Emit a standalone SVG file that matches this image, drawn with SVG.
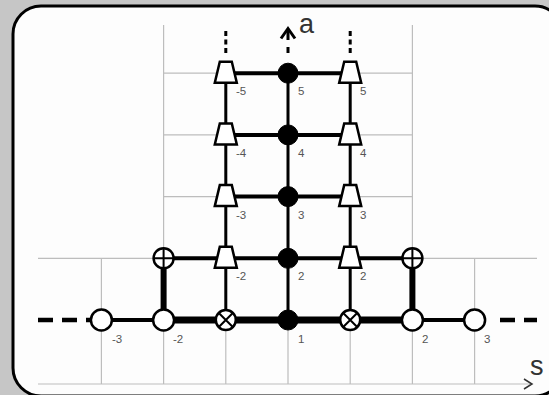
<svg xmlns="http://www.w3.org/2000/svg" width="549" height="395" viewBox="0 0 549 395">
<style>
.grid{stroke:#bdbdbd;stroke-width:1.2;fill:none}
.ln{stroke:#000;fill:none;stroke-linecap:butt}
.nd{stroke:#000;stroke-width:2.5;fill:#fff}
.fl{fill:#000;stroke:#000;stroke-width:1}
.lb{font-family:"Liberation Sans",Arial,sans-serif;font-size:11.5px;fill:#555}
.ax{font-family:"Liberation Sans",Arial,sans-serif;font-size:27px;fill:#333}
</style>
<defs>
<path id="trap" class="nd" d="M-6,-11.5 H6 L11,9.5 H-11 Z"/>
<circle id="open" class="nd" r="10.5"/>
<circle id="filled" class="fl" r="10"/>
<g id="otimes"><circle class="nd" r="10"/><path class="ln" stroke-width="2" d="M-7,-7 L7,7 M7,-7 L-7,7"/></g>
<g id="oplus"><circle class="nd" r="10"/><path class="ln" stroke-width="2" d="M-10,0 H10 M0,-10 V10"/></g>
</defs>
<rect x="0" y="0" width="549" height="395" fill="#c6c6c6"/>
<rect x="13" y="6" width="550" height="390" rx="28" ry="28" fill="#fdfdfd" stroke="#000" stroke-width="3"/>
<g id="grid">
<path class="grid" d="M38,258.3 H537 M163.6,196.6 H412.4 M163.6,134.9 H412.4 M163.6,73.2 H412.4"/>
<path class="grid" d="M163.6,25 V384 M412.4,25 V384 M101.4,258.3 V384 M474.6,258.3 V384 M225.8,320 V384 M288,320 V384 M350.2,320 V384"/>
<path class="grid" d="M38,384 H532"/>
<polyline points="524,379 532,384 524,389" fill="none" stroke="#333" stroke-width="1.5"/>
<text class="ax" x="299" y="33">a</text>
<text class="ax" x="530" y="375">s</text>
</g>
<g id="connectors">
<path class="ln" stroke-width="4" d="M101.4,320 H163.6 M412.4,320 H474.6"/>
<path class="ln" stroke-width="7" d="M163.6,320 H412.4"/>
<path class="ln" stroke-width="4.5" stroke-dasharray="15,9" d="M38,320 H91 M500,320 H537"/>
<path class="ln" stroke-width="6" d="M163.6,320 V258.3 M412.4,320 V258.3"/>
<path class="ln" stroke-width="3" d="M225.8,320 V73.2 M350.2,320 V73.2 M288,320 V73.2"/>
<path class="ln" stroke-width="4" d="M163.6,258.3 H412.4 M225.8,196.6 H350.2 M225.8,134.9 H350.2 M225.8,73.2 H350.2"/>
<path class="ln" stroke-width="3" stroke-dasharray="5,3.5" d="M225.8,31 V56 M350.2,31 V56"/>
<path class="ln" stroke-width="3" d="M288,47 V53 M288,40 V29"/>
<polyline class="ln" stroke-width="3" points="281,38.5 288,28.5 295,38.5"/>
</g>
<g id="n_m3"><use href="#open" x="101.4" y="320"/><text class="lb" x="112" y="343">-3</text></g>
<g id="n_m2"><use href="#open" x="163.6" y="320"/><text class="lb" x="173" y="343">-2</text></g>
<g id="n_xl"><use href="#otimes" x="225.8" y="320"/></g>
<g id="n_1"><use href="#filled" x="288" y="320"/><text class="lb" x="298" y="343">1</text></g>
<g id="n_xr"><use href="#otimes" x="350.2" y="320"/></g>
<g id="n_2"><use href="#open" x="412.4" y="320"/><text class="lb" x="422" y="343">2</text></g>
<g id="n_3"><use href="#open" x="474.6" y="320"/><text class="lb" x="484" y="343">3</text></g>
<g id="n_pl"><use href="#oplus" x="163.6" y="258.3"/></g>
<g id="n_pr"><use href="#oplus" x="412.4" y="258.3"/></g>
<g id="n_t2l"><use href="#trap" x="225.8" y="258.3"/><text class="lb" x="236" y="280.3">-2</text></g>
<g id="n_c2"><use href="#filled" x="288" y="258.3"/><text class="lb" x="298" y="280.3">2</text></g>
<g id="n_t2r"><use href="#trap" x="350.2" y="258.3"/><text class="lb" x="360" y="280.3">2</text></g>
<g id="n_t3l"><use href="#trap" x="225.8" y="196.6"/><text class="lb" x="236" y="218.6">-3</text></g>
<g id="n_c3"><use href="#filled" x="288" y="196.6"/><text class="lb" x="298" y="218.6">3</text></g>
<g id="n_t3r"><use href="#trap" x="350.2" y="196.6"/><text class="lb" x="360" y="218.6">3</text></g>
<g id="n_t4l"><use href="#trap" x="225.8" y="134.9"/><text class="lb" x="236" y="156.9">-4</text></g>
<g id="n_c4"><use href="#filled" x="288" y="134.9"/><text class="lb" x="298" y="156.9">4</text></g>
<g id="n_t4r"><use href="#trap" x="350.2" y="134.9"/><text class="lb" x="360" y="156.9">4</text></g>
<g id="n_t5l"><use href="#trap" x="225.8" y="73.2"/><text class="lb" x="236" y="95.2">-5</text></g>
<g id="n_c5"><use href="#filled" x="288" y="73.2"/><text class="lb" x="298" y="95.2">5</text></g>
<g id="n_t5r"><use href="#trap" x="350.2" y="73.2"/><text class="lb" x="360" y="95.2">5</text></g>
</svg>
